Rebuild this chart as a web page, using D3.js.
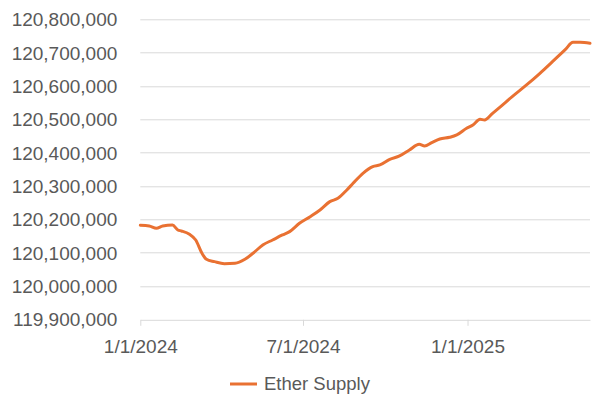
<!DOCTYPE html>
<meta charset="utf-8">
<script src="https://d3js.org/d3.v7.min.js"></script>
<style>
  body { margin: 0; background: #fff; }
  svg { display: block; font-family: "Liberation Sans", Arial, sans-serif; }
  .axis text { fill: #595959; font-size: 19px; }
  .axis path, .axis line { stroke: #d9d9d9; }
</style>
<div id="chart"></div>
<script>

// Ether supply
var dates = [
  "2024-01-01","2024-01-11","2024-01-19","2024-01-26","2024-02-06","2024-02-12",
  "2024-02-16","2024-02-25","2024-03-03","2024-03-10","2024-03-15","2024-03-24",
  "2024-04-04","2024-04-16","2024-04-27","2024-05-06","2024-05-17","2024-05-28",
  "2024-06-08","2024-06-16","2024-06-27","2024-07-09","2024-07-20","2024-07-31",
  "2024-08-09","2024-08-19","2024-08-26","2024-09-06","2024-09-17","2024-09-25",
  "2024-10-06","2024-10-17","2024-10-28","2024-11-08","2024-11-14","2024-11-22",
  "2024-12-01","2024-12-12","2024-12-20","2024-12-31","2025-01-07","2025-01-15",
  "2025-01-20","2025-01-29","2025-02-06","2025-02-20","2025-03-08","2025-03-23",
  "2025-04-06","2025-04-20","2025-04-29","2025-05-07","2025-05-18"
];
var supply = [
  120182000,120180000,120173000,120180000,120183000,120168000,
  120165000,120155000,120138000,120098000,120080000,120073000,
  120067000,120068000,120080000,120098000,120123000,120138000,
  120153000,120163000,120188000,120208000,120228000,120253000,
  120263000,120288000,120308000,120338000,120358000,120363000,
  120380000,120390000,120408000,120425000,120420000,120430000,
  120441000,120446000,120453000,120473000,120483000,120500000,
  120498000,120518000,120536000,120568000,120603000,120638000,
  120673000,120708000,120731000,120731000,120728000
];
var yTicks = [119900000,120000000,120100000,120200000,120300000,120400000,120500000,120600000,120700000,120800000];
var xTicks = ["2024-01-01","2024-07-01","2025-01-01"];
var seriesName = "Ether Supply";

var W = 600, H = 405;
var margin = {top: 19.3, right: 10, bottom: 85.7, left: 140.3};
var width = W - margin.left - margin.right,
    height = H - margin.top - margin.bottom;

var parse = d3.timeParse("%Y-%m-%d");
var data = dates.map(function(d, i) { return {date: parse(d), value: supply[i]}; });

var svg = d3.select("#chart").append("svg")
    .attr("width", W)
    .attr("height", H);
var g = svg.append("g")
    .attr("transform", "translate(" + margin.left + "," + margin.top + ")");

var x = d3.scaleTime()
    .domain([parse("2024-01-01"), parse("2025-05-18")])
    .range([0, width]);

var y = d3.scaleLinear()
    .domain([119900000, 120800000])
    .range([height, 0]);

// gridlines
g.append("g")
    .selectAll("line")
    .data(yTicks.slice(1))
    .enter().append("line")
    .attr("x1", 0).attr("x2", width)
    .attr("y1", function(d) { return Math.round(y(d)) + 0.5; })
    .attr("y2", function(d) { return Math.round(y(d)) + 0.5; })
    .attr("stroke", "#d9d9d9")
    .attr("stroke-width", 1);

// y axis labels
var yAxis = g.append("g")
    .attr("class", "axis")
    .attr("transform", "translate(-23,0)")
    .call(d3.axisLeft(y).tickValues(yTicks).tickSize(0).tickPadding(0).tickFormat(d3.format(",")));
yAxis.select(".domain").remove();
yAxis.selectAll("text").attr("dy", "0.35em");

// x axis
var xAxis = g.append("g")
    .attr("class", "axis")
    .attr("transform", "translate(0," + (Math.round(height) + 0.5) + ")")
    .call(d3.axisBottom(x)
      .tickValues(xTicks.map(parse))
      .tickSize(6)
      .tickSizeOuter(0)
      .tickPadding(14)
      .tickFormat(d3.timeFormat("%-m/%-d/%Y")));

// line
var line = d3.line()
    .x(function(d) { return x(d.date); })
    .y(function(d) { return y(d.value); })
    .curve(d3.curveMonotoneX);

g.append("path")
    .datum(data)
    .attr("fill", "none")
    .attr("stroke", "#e97132")
    .attr("stroke-width", 3)
    .attr("stroke-linejoin", "round")
    .attr("stroke-linecap", "round")
    .attr("d", line);

// legend
var legend = svg.append("g").attr("transform", "translate(230,384)");
legend.append("line")
    .attr("x1", 0).attr("x2", 27)
    .attr("y1", 0).attr("y2", 0)
    .attr("stroke", "#e97132")
    .attr("stroke-width", 3);
legend.append("text")
    .attr("x", 34)
    .attr("y", 0)
    .attr("dy", "0.35em")
    .attr("fill", "#595959")
    .style("font-size", "18.5px")
    .text(seriesName);

</script>
